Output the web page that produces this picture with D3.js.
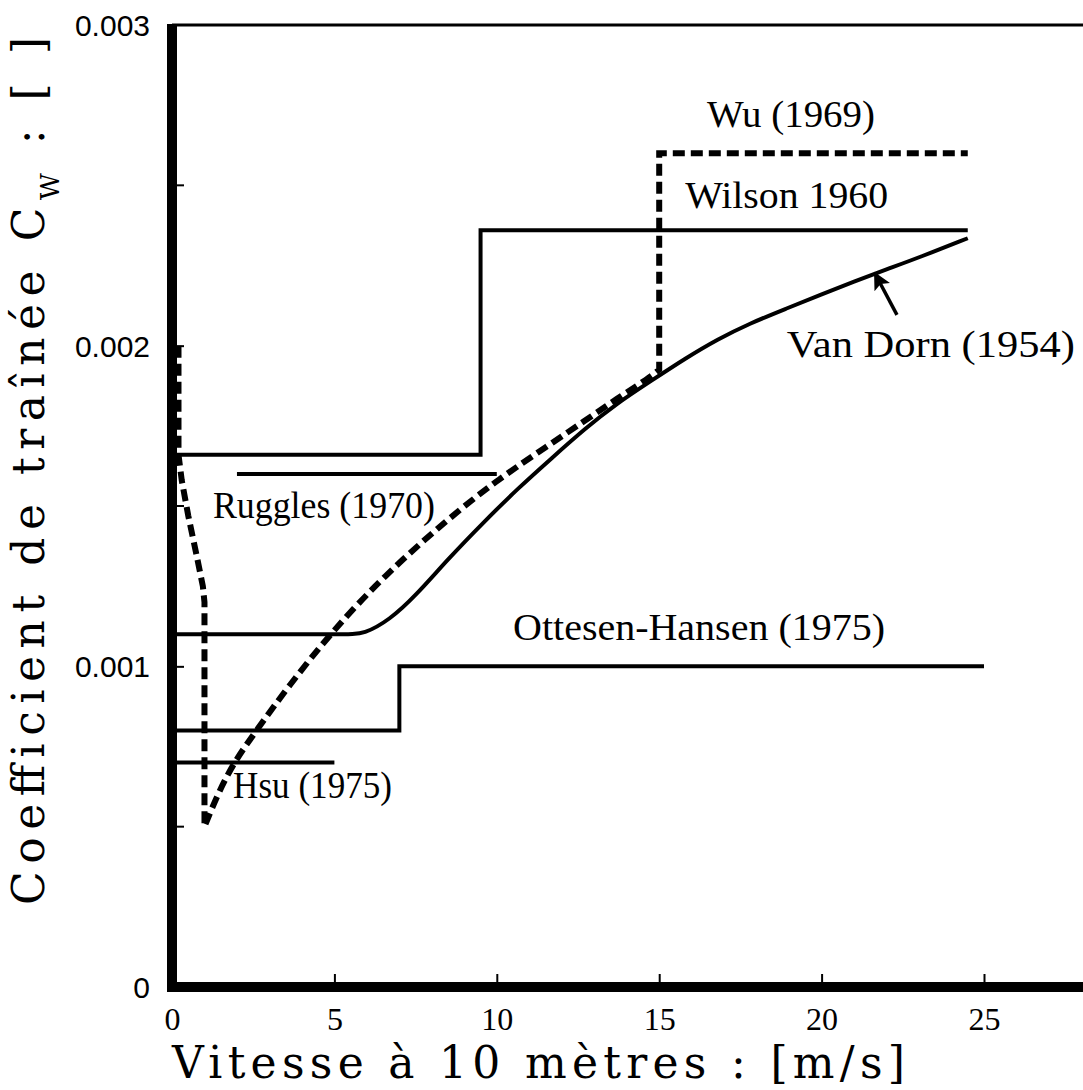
<!DOCTYPE html>
<html lang="fr">
<head>
<meta charset="UTF-8" />
<title>Coefficient de trainee</title>
<script src="https://d3js.org/d3.v7.min.js"></script>
<style>
  body { margin: 0; background: #fff; }
  svg { display: block; }
  .lbl { font-family: "Liberation Serif", serif; fill: #000; }
  .ttl { font-family: "DejaVu Serif", serif; fill: #000; }
</style>
</head>
<body>
<div id="chart"></div>
<script>
// series: [wind speed m/s, drag coefficient]
var wilson = [[0, 0.00166], [9.5, 0.00166], [9.5, 0.00236], [24.5, 0.00236]];
var ruggles = [[2, 0.0016], [10, 0.0016]];
var ottesen = [[0, 0.0008], [7, 0.0008], [7, 0.001], [25, 0.001]];
var hsu = [[0, 0.0007], [5, 0.0007]];
var vanDorn = [[0, 0.0011], [5.4, 0.0011], [5.9, 0.0011], [6.7, 0.001145], [7.5, 0.00122],
  [8.5, 0.001335], [9.6, 0.00145], [10.65, 0.001555], [11.7, 0.00165], [12.7, 0.00174],
  [13.7, 0.00182], [14.75, 0.00189], [15.8, 0.00196], [16.8, 0.00202], [17.8, 0.00207],
  [18.9, 0.002115], [20, 0.00216], [21, 0.0022], [22, 0.002238], [23, 0.002275], [24.5, 0.002335]];
// Wu (1969): drop near the axis, rise joining Van Dorn, then the step at 15 m/s
var wuDrop = [[0.2, 0.002], [0.2, 0.00166], [0.3, 0.00158], [0.5, 0.00147], [0.75, 0.00135],
  [0.95, 0.00125], [1.0, 0.0012], [1.0, 0.0005]];
var wuRise = [[1.0, 0.0005], [1.4, 0.0006], [1.9, 0.0007], [2.6, 0.0008], [3.6, 0.00094],
  [4.9, 0.001105], [6.5, 0.00128], [8.5, 0.00146], [10, 0.00158], [11.6, 0.00169],
  [12.7, 0.001765], [13.7, 0.001835], [14.7, 0.0019], [15, 0.001925]];
var wuTop = [[15, 0.001925], [15, 0.0026], [24.5, 0.0026]];

var xTicks = [0, 5, 10, 15, 20, 25];
var yTicks = [0, 0.001, 0.002, 0.003];
var yMinorTicks = [0.0005, 0.0015, 0.0025];

var W = 1083, H = 1090;
var svg = d3.select("#chart").append("svg").attr("width", W).attr("height", H);

var x = d3.scaleLinear().domain([0, 25]).range([172, 984]);
var y = d3.scaleLinear().domain([0, 0.003]).range([987, 25]);

// frame
svg.append("line").attr("x1", x(0)).attr("x2", W).attr("y1", y(0.003)).attr("y2", y(0.003))
  .attr("stroke", "#000").attr("stroke-width", 3);
svg.append("line").attr("x1", x(0)).attr("x2", x(0)).attr("y1", y(0.003) - 1).attr("y2", y(0) + 5)
  .attr("stroke", "#000").attr("stroke-width", 10);
svg.append("line").attr("x1", x(0) - 5).attr("x2", W).attr("y1", y(0)).attr("y2", y(0))
  .attr("stroke", "#000").attr("stroke-width", 10);

// axes (ticks pointing inward)
var gx = svg.append("g").attr("transform", "translate(0," + (y(0) - 5) + ")")
  .call(d3.axisBottom(x).tickValues(xTicks).tickSize(-8).tickSizeOuter(0).tickFormat(d3.format("d")));
gx.select(".domain").remove();
gx.selectAll(".tick line").attr("stroke-width", 2).filter(function (d) { return d === 0; }).remove();
gx.selectAll(".tick text").attr("y", 37).attr("dy", "0.35em")
  .style("font-family", "Liberation Serif, serif").style("font-size", "32px").attr("fill", "#000");

var gy = svg.append("g").attr("transform", "translate(" + (x(0) + 5) + ",0)")
  .call(d3.axisLeft(y).tickValues(yTicks).tickSize(-7).tickSizeOuter(0)
    .tickFormat(function (d) { return d === 0 ? "0" : d3.format(".3f")(d); }));
gy.select(".domain").remove();
gy.selectAll(".tick line").attr("stroke-width", 2).filter(function (d) { return d === 0 || d === 0.003; }).remove();
gy.selectAll(".tick text").attr("x", -27).attr("dy", "0.35em")
  .style("font-family", "Liberation Sans, sans-serif").style("font-size", "30px").attr("fill", "#000");
svg.append("g").selectAll("line").data(yMinorTicks).join("line")
  .attr("x1", x(0) + 5).attr("x2", x(0) + 12).attr("y1", function (d) { return y(d); }).attr("y2", function (d) { return y(d); })
  .attr("stroke", "#000").attr("stroke-width", 2);

// curves
var line = d3.line().x(function (d) { return x(d[0]); }).y(function (d) { return y(d[1]); });
var smooth = d3.line().x(function (d) { return x(d[0]); }).y(function (d) { return y(d[1]); }).curve(d3.curveBasis);

[wilson, ruggles, ottesen, hsu].forEach(function (s) {
  svg.append("path").attr("d", line(s)).attr("fill", "none").attr("stroke", "#000").attr("stroke-width", 4);
});
svg.append("path").attr("d", smooth(vanDorn)).attr("fill", "none").attr("stroke", "#000").attr("stroke-width", 4);

var wuPath = line(wuDrop) + smooth(wuRise).replace(/^M[^A-Za-z]*/, "L" + x(1.0) + "," + y(0.0005)) +
  line(wuTop).replace(/^M/, "L");
svg.append("path").attr("d", wuPath).attr("fill", "none").attr("stroke", "#000")
  .attr("stroke-width", 6).attr("stroke-dasharray", "12,6");

// arrow to Van Dorn curve
svg.append("defs").append("marker").attr("id", "arr").attr("viewBox", "0 0 10 10")
  .attr("refX", 9).attr("refY", 5).attr("markerWidth", 5.5).attr("markerHeight", 5)
  .attr("markerUnits", "strokeWidth").attr("orient", "auto")
  .append("path").attr("d", "M0,0L10,5L0,10L2,5z").attr("fill", "#000");
svg.append("line").attr("x1", x(22.32)).attr("y1", y(0.002096)).attr("x2", x(21.64)).attr("y2", y(0.002226))
  .attr("stroke", "#000").attr("stroke-width", 3.5).attr("marker-end", "url(#arr)");

// series labels
var labelText = ["Wu (1969)", "Wilson 1960", "Van Dorn (1954)", "Ruggles (1970)", "Ottesen-Hansen (1975)", "Hsu (1975)"];
var labelPos = [[16.47, 0.002682, 168], [15.8, 0.002429, 203], [18.93, 0.001965, 288],
  [1.26, 0.001463, 222], [10.5, 0.001082, 372], [1.88, 0.000589, 159]];
svg.append("g").selectAll("text").data(labelText).join("text").attr("class", "lbl")
  .attr("x", function (d, i) { return x(labelPos[i][0]); })
  .attr("y", function (d, i) { return y(labelPos[i][1]); })
  .attr("textLength", function (d, i) { return labelPos[i][2]; })
  .attr("lengthAdjust", "spacingAndGlyphs")
  .style("font-size", "38px").text(function (d) { return d; });

// axis titles
svg.append("text").attr("class", "ttl").attr("x", 172).attr("y", 1078)
  .attr("textLength", 733).attr("lengthAdjust", "spacing")
  .style("font-size", "44px").text("Vitesse à 10 mètres : [m/s]");

var yt = svg.append("text").attr("class", "ttl")
  .attr("transform", "translate(44,905) rotate(-90)")
  .attr("textLength", 868).attr("lengthAdjust", "spacing")
  .style("font-size", "44px");
yt.append("tspan").text("Coefficient de traînée C");
yt.append("tspan").attr("baseline-shift", "sub").style("font-size", "26px").text("W");
yt.append("tspan").text(" : [ ]");
</script>
</body>
</html>
